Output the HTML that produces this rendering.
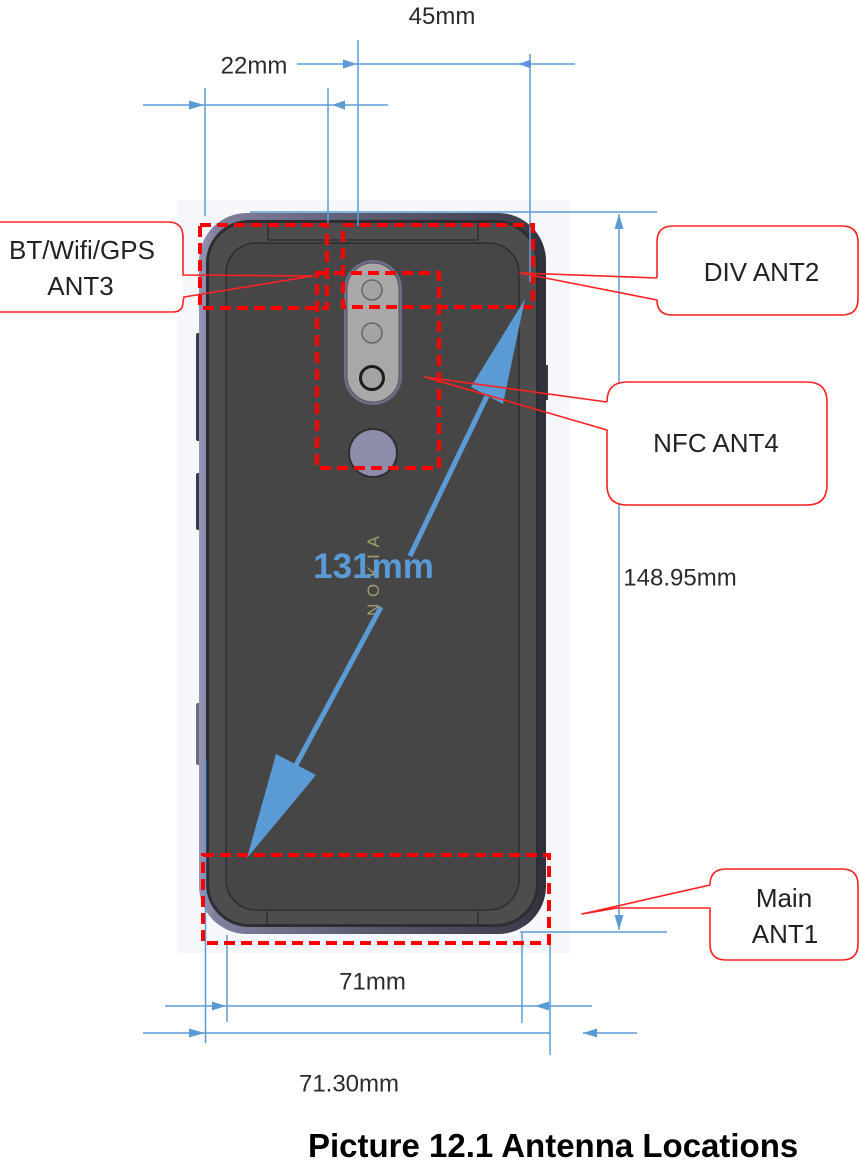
<!DOCTYPE html>
<html><head><meta charset="utf-8">
<style>
html,body{margin:0;padding:0;background:#fff;}
svg{display:block;}
text{font-family:"Liberation Sans",Arial,sans-serif;}
</style></head><body>
<svg width="860" height="1164" viewBox="0 0 860 1164" xmlns="http://www.w3.org/2000/svg">
<defs>
<linearGradient id="rim" x1="0" x2="1" y1="0" y2="0">
<stop offset="0" stop-color="#9494b4"/>
<stop offset="0.05" stop-color="#80809e"/>
<stop offset="0.5" stop-color="#5a5a6e"/>
<stop offset="0.93" stop-color="#3e3e4c"/>
<stop offset="1" stop-color="#30303b"/>
</linearGradient>
</defs>
<rect width="860" height="1164" fill="#fff"/>
<rect x="177" y="200" width="393" height="753" fill="#f6f7fb"/>

<!-- side buttons -->
<rect x="196" y="333" width="5" height="108" rx="2" fill="#3a3a44"/>
<rect x="196" y="473" width="5" height="57" rx="2" fill="#3a3a44"/>
<rect x="196" y="703" width="5" height="62" rx="2" fill="#6a6a80"/>
<rect x="545" y="365" width="3" height="35" fill="#3a3a44"/>

<!-- phone body -->
<rect x="199" y="213" width="347" height="721" rx="48" fill="url(#rim)"/>
<rect x="206" y="220" width="333" height="707" rx="43" fill="#2d2d33"/>
<rect x="209" y="223" width="327" height="701" rx="40" fill="#4d4d4d"/>
<rect x="226" y="243" width="293" height="667" rx="30" fill="#464646" stroke="#2e2e2e" stroke-width="1.5"/>
<g stroke="#2e2e2e" stroke-width="1.5">
<line x1="268" y1="223" x2="268" y2="240"/>
<line x1="478" y1="223" x2="478" y2="240"/>
<line x1="268" y1="240" x2="478" y2="240"/>
<line x1="267" y1="911" x2="267" y2="926"/>
<line x1="478" y1="911" x2="478" y2="926"/>
</g>

<!-- camera -->
<rect x="344" y="260" width="58" height="145" rx="29" fill="#6e6e8c"/>
<rect x="347" y="263" width="52" height="139" rx="26" fill="#a8a8a8" stroke="#555" stroke-width="1"/>
<circle cx="372" cy="290" r="10" fill="#a4a4a4" stroke="#666" stroke-width="1.5"/>
<circle cx="372" cy="333" r="10" fill="#a4a4a4" stroke="#666" stroke-width="1.5"/>
<circle cx="372" cy="378" r="11.5" fill="#a4a4a4" stroke="#1e1e1e" stroke-width="3"/>
<circle cx="373" cy="453" r="25" fill="#2e2e2e"/>
<circle cx="373" cy="453" r="23" fill="#8d8dab"/>

<!-- NOKIA logo -->
<text transform="translate(379,576) rotate(-90)" font-size="17" fill="#a19d6a" text-anchor="middle" textLength="80" lengthAdjust="spacing">NOKIA</text>

<!-- blue dimension lines -->
<g stroke="#5b9bd5" stroke-width="1.5" fill="none">
<line x1="358" y1="40" x2="358" y2="226"/>
<line x1="530" y1="54" x2="530" y2="282"/>
<line x1="297" y1="64" x2="575" y2="64"/>
<line x1="205" y1="88" x2="205" y2="216"/>
<line x1="328" y1="88" x2="328" y2="226"/>
<line x1="143" y1="105" x2="388" y2="105"/>
<line x1="250" y1="212" x2="657" y2="212"/>
<line x1="520" y1="932" x2="667" y2="932"/>
<line x1="619" y1="214" x2="619" y2="930"/>
<line x1="227" y1="935" x2="227" y2="1022"/>
<line x1="522" y1="933" x2="522" y2="1023"/>
<line x1="165" y1="1006" x2="592" y2="1006"/>
<line x1="205.5" y1="760" x2="205.5" y2="1043"/>
<line x1="550" y1="940" x2="550" y2="1055"/>
<line x1="143" y1="1033" x2="550" y2="1033"/>
<line x1="583" y1="1033" x2="637" y2="1033"/>
</g>
<g fill="#5b9bd5">
<polygon points="357,64 343,59.5 343,68.5"/>
<polygon points="518,64 531,59.5 531,68.5"/>
<polygon points="204,105 189,100.5 189,109.5"/>
<polygon points="332,105 345,100.5 345,109.5"/>
<polygon points="619,214 614.5,229 623.5,229"/>
<polygon points="619,930 614.5,915 623.5,915"/>
<polygon points="226,1006 212,1001.5 212,1010.5"/>
<polygon points="535,1006 549,1001.5 549,1010.5"/>
<polygon points="205,1033 189,1028.5 189,1037.5"/>
<polygon points="583,1033 597,1028.5 597,1037.5"/>
</g>

<!-- red dashed antenna boxes -->
<g fill="none" stroke="#ff0000" stroke-width="4" stroke-dasharray="11 6">
<rect x="200" y="225" width="127" height="83"/>
<rect x="343" y="225" width="190" height="82"/>
<rect x="317" y="273" width="122" height="195"/>
<rect x="203" y="855" width="346" height="88"/>
</g>

<!-- big blue 131mm arrow -->
<g fill="#5b9bd5">
<polygon points="525,299 471,387 503,404"/>
<polygon points="247,858 276,754 316,775"/>
</g>
<line x1="487" y1="396" x2="410" y2="556" stroke="#5b9bd5" stroke-width="5"/>
<line x1="381" y1="607" x2="296" y2="765" stroke="#5b9bd5" stroke-width="5"/>
<text x="373.5" y="578" font-size="35" font-weight="bold" fill="#5b9bd5" text-anchor="middle">131mm</text>

<!-- callouts -->
<g fill="#fff">
<rect x="-10" y="222" width="193" height="90" rx="12"/>
<rect x="657" y="226" width="201" height="89" rx="16"/>
<rect x="607" y="382" width="220" height="123" rx="20"/>
<rect x="710" y="869" width="148" height="91" rx="16"/>
</g>
<g fill="none" stroke="#ff2020" stroke-width="1.6" stroke-linejoin="round">
<path d="M -10,222 L 168,222 Q 183,222 183,237 L 183,275 L 313,276 L 184,297 L 183,302 Q 183,312 173,312 L -10,312"/>
<path d="M 657,278 L 657,242 Q 657,226 673,226 L 842,226 Q 858,226 858,242 L 858,299 Q 858,315 842,315 L 672,315 Q 657,315 657,300 L 520,273 L 657,278"/>
<path d="M 607,402 Q 607,382 627,382 L 807,382 Q 827,382 827,402 L 827,485 Q 827,505 807,505 L 627,505 Q 607,505 607,485 L 607,430 L 425,377 L 607,402"/>
<path d="M 710,885 Q 710,869 726,869 L 842,869 Q 858,869 858,885 L 858,944 Q 858,960 842,960 L 726,960 Q 710,960 710,944 L 710,908 L 617,908 L 582,914 L 710,885"/>
</g>

<!-- dimension labels -->
<g font-size="24" fill="#2b2b2b" text-anchor="middle">
<text x="442" y="24">45mm</text>
<text x="254" y="73.5">22mm</text>
<text x="680" y="585.5">148.95mm</text>
<text x="372.5" y="989.5">71mm</text>
<text x="349" y="1091.5">71.30mm</text>
</g>

<!-- callout labels -->
<g font-size="26" fill="#222" text-anchor="middle">
<text x="82" y="259">BT/Wifi/GPS</text>
<text x="80.5" y="295">ANT3</text>
<text x="761.5" y="281">DIV ANT2</text>
<text x="716" y="452">NFC ANT4</text>
<text x="784" y="907">Main</text>
<text x="785" y="943">ANT1</text>
</g>

<!-- caption -->
<text x="308" y="1157" font-size="33" font-weight="bold" fill="#000">Picture 12.1 Antenna Locations</text>
</svg>
</body></html>
